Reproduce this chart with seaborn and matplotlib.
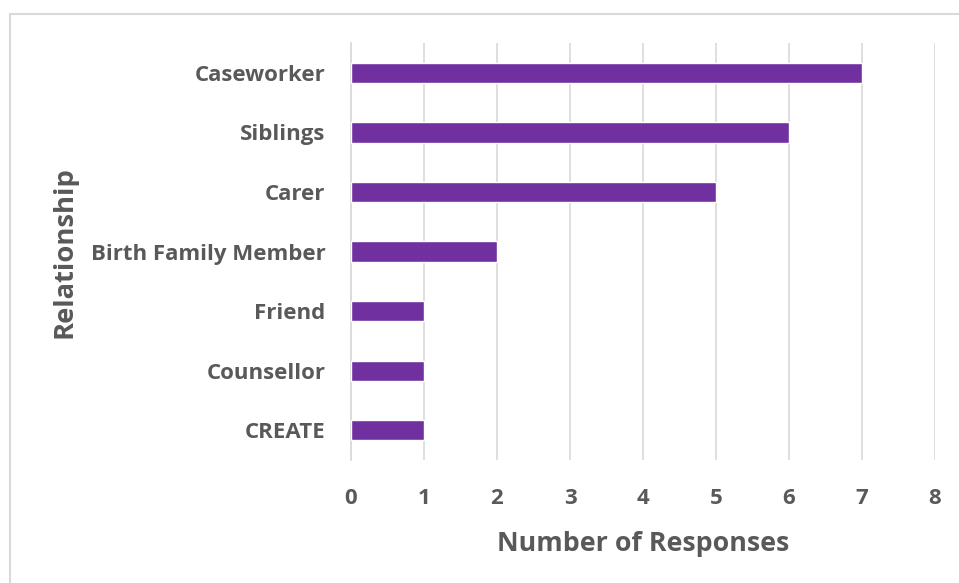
import matplotlib
matplotlib.use("Agg")
import matplotlib.pyplot as plt
import seaborn as sns
import pandas as pd
from matplotlib.patches import Rectangle

categories = ["Caseworker", "Siblings", "Carer", "Birth Family Member", "Friend", "Counsellor", "CREATE"]
values = [7, 6, 5, 2, 1, 1, 1]
xticks = [0, 1, 2, 3, 4, 5, 6, 7, 8]

df = pd.DataFrame({"Relationship": categories, "Responses": values})

sns.set_theme(style="white")
plt.rcParams["font.family"] = ["Open Sans", "DejaVu Sans"]

text_color = "#595959"
fig = plt.figure(figsize=(9.59, 5.83), dpi=100)
ax = fig.add_axes([0.366, 0.211, 0.609, 0.715])

sns.barplot(data=df, x="Responses", y="Relationship", order=categories,
            color="#7030A0", width=0.34, saturation=1, ax=ax, zorder=3)

ax.set_xlim(0, 8)
ax.set_xticks(xticks)
ax.grid(axis="x", color="#D9D9D9", linewidth=1.2, zorder=0)
ax.grid(axis="y", visible=False)
for s in ["top", "right", "bottom"]:
    ax.spines[s].set_visible(False)
ax.spines["left"].set_color("#D9D9D9")
ax.spines["left"].set_linewidth(1.2)
ax.tick_params(axis="both", length=0, colors=text_color)
ax.tick_params(axis="x", pad=20)
ax.tick_params(axis="y", pad=18.5)
for lab in ax.get_xticklabels():
    lab.set_fontweight("bold")
    lab.set_fontsize(16)
    lab.set_color(text_color)
for lab in ax.get_yticklabels():
    lab.set_fontweight("bold")
    lab.set_fontsize(16)
    lab.set_color(text_color)

ax.set_xlabel("Number of Responses", fontsize=19.3, fontweight="bold", color=text_color, labelpad=16)
ax.set_ylabel("Relationship", fontsize=19.7, fontweight="bold", color=text_color)
ax.yaxis.set_label_coords(-0.469, 0.5)

fig.patches.append(Rectangle((10/959, -0.1), 1, 1.1 - 14/583, transform=fig.transFigure,
                             fill=False, edgecolor="#D9D9D9", linewidth=1.5, zorder=0))

fig.savefig("out.png", dpi=100)
